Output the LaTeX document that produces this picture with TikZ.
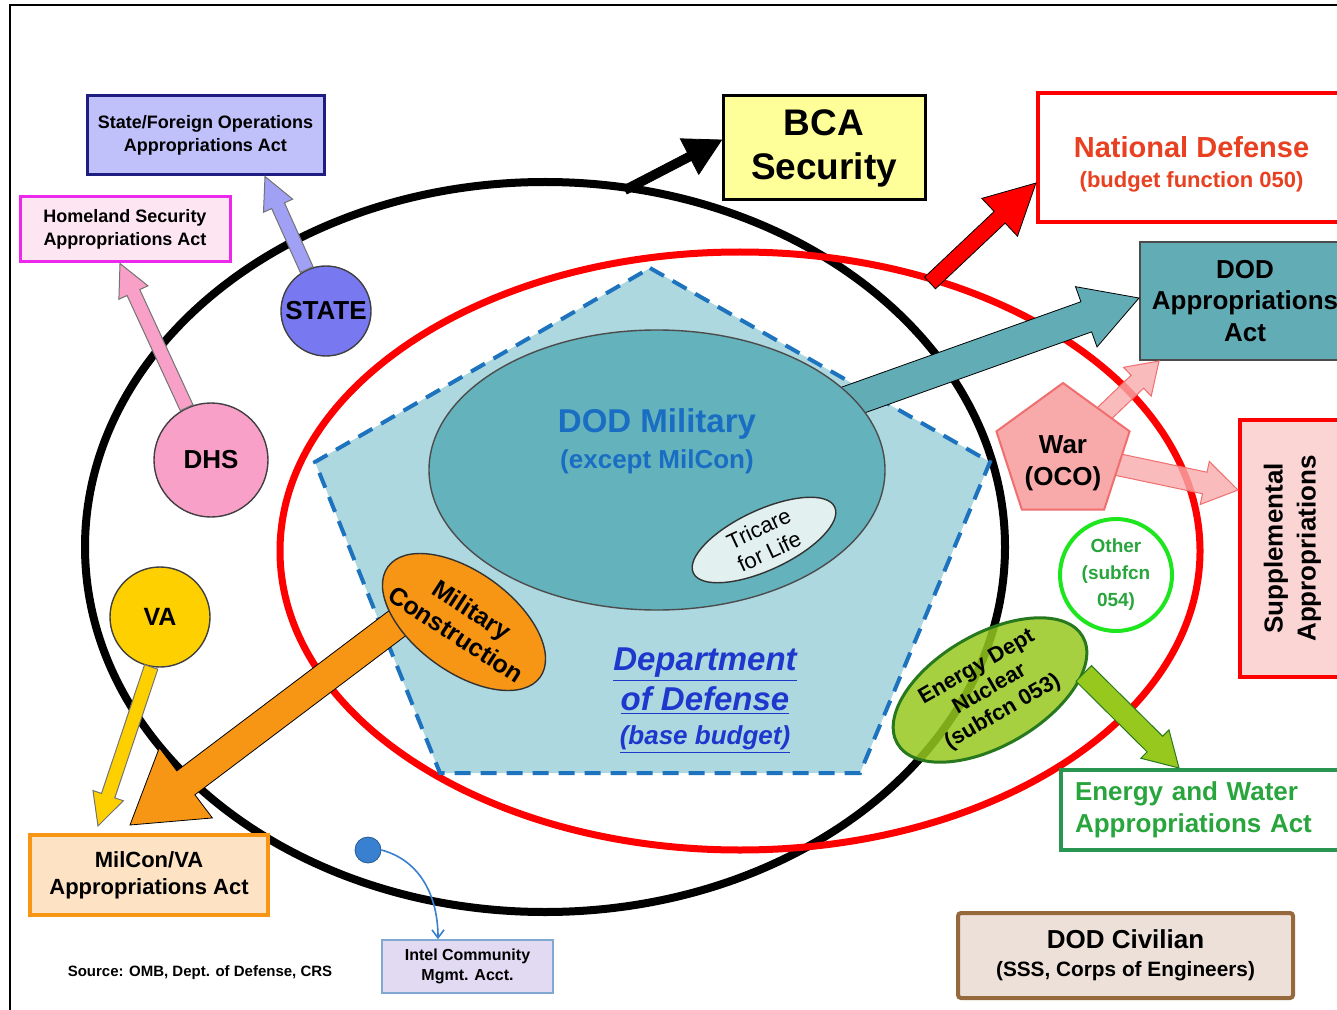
\documentclass[tikz,border=0pt]{standalone}
\usepackage{fontspec}
\setmainfont{Liberation Sans}
\usetikzlibrary{arrows.meta,shapes.geometric,positioning,calc}

\definecolor{pentfill}{RGB}{173,216,224}
\definecolor{pentline}{RGB}{30,115,190}
\definecolor{milfill}{RGB}{100,178,188}
\definecolor{tricfill}{RGB}{226,240,240}
\definecolor{dodblue}{RGB}{25,110,195}
\definecolor{deptblue}{RGB}{30,55,205}
\definecolor{mcorange}{RGB}{247,150,20}
\definecolor{mcbox}{RGB}{253,226,196}
\definecolor{vagold}{RGB}{255,208,0}
\definecolor{dhspink}{RGB}{248,160,200}
\definecolor{hspink}{RGB}{253,230,242}
\definecolor{hsline}{RGB}{235,40,235}
\definecolor{statepurple}{RGB}{120,120,240}
\definecolor{stateline}{RGB}{160,160,245}
\definecolor{sfbox}{RGB}{192,192,250}
\definecolor{sfline}{RGB}{30,30,130}
\definecolor{bcayellow}{RGB}{255,255,153}
\definecolor{ndred}{RGB}{232,64,32}
\definecolor{dodapp}{RGB}{98,172,182}
\definecolor{warpink}{RGB}{248,170,170}
\definecolor{warline}{RGB}{240,110,110}
\definecolor{supbox}{RGB}{251,212,212}
\definecolor{othgreen}{RGB}{30,230,30}
\definecolor{othtext}{RGB}{40,165,60}
\definecolor{nucgreen}{RGB}{150,200,30}
\definecolor{nucline}{RGB}{40,120,30}
\definecolor{ewgreen}{RGB}{40,150,80}
\definecolor{civbox}{RGB}{237,224,216}
\definecolor{civline}{RGB}{150,105,60}
\definecolor{intelbox}{RGB}{226,218,242}
\definecolor{intelline}{RGB}{128,168,208}
\definecolor{dotblue}{RGB}{58,128,208}

\newcommand{\setfs}[2]{\fontsize{#1}{#2}\selectfont}
% block arrow: style, from, to, half shaft, head length, half head
\newcommand{\blockarrow}[6]{%
  \coordinate (ba-s) at (#2);
  \coordinate (ba-e) at (#3);
  \coordinate (ba-h) at ($(ba-e)!#5!(ba-s)$);
  \draw[#1] ($(ba-s)!#4!90:(ba-e)$) -- ($(ba-h)!#4!90:(ba-e)$) -- ($(ba-h)!#6!90:(ba-e)$)
    -- (ba-e) -- ($(ba-h)!#6!-90:(ba-e)$) -- ($(ba-h)!#4!-90:(ba-e)$) -- ($(ba-s)!#4!-90:(ba-e)$) -- cycle;
}

\tikzset{
  actbox/.style={draw, line width=2pt, align=center, inner sep=0pt},
  agency/.style={circle, draw=black!75, line width=0.7pt, inner sep=0pt, font=\bfseries\setfs{13}{15}},
  oval/.style={ellipse, draw=black!80, line width=0.7pt, inner sep=0pt, align=center},
}

\begin{document}
\begin{tikzpicture}[x=0.5pt,y=-0.5pt]
\useasboundingbox (0,0) rectangle (1337,1010);
\draw[line width=1pt] (10,1010) -- (10,5) -- (1337,5);

% budget outlines
\draw[line width=4pt] (545,547) ellipse [x radius=460, y radius=365];
\draw[red, line width=3.5pt] (740,551) ellipse [x radius=460, y radius=299];
\draw[pentline, fill=pentfill, line width=2pt, dash pattern=on 8pt off 5pt] (650,268) -- (990,462) -- (860,773) -- (440,773) -- (315,462) -- cycle;

% appropriations acts
\node[actbox, draw=sfline, fill=sfbox, line width=1.5pt, minimum width=118.5pt, minimum height=39.5pt, font=\bfseries\setfs{9}{11.5}] (sfops) at (205.5,135.5) {State/Foreign Operations\\Appropriations Act};
\node[actbox, draw=hsline, fill=hspink, line width=1.5pt, minimum width=105pt, minimum height=32.5pt, font=\bfseries\setfs{9}{11.5}] (hsact) at (125,229.5) {Homeland Security\\Appropriations Act};
\node[actbox, draw=mcorange, fill=mcbox, minimum width=119pt, minimum height=40pt, font=\bfseries\setfs{11}{13.5}] (mcact) at (149,875) {MilCon/VA\\Appropriations Act};
\node[actbox, draw=black, fill=bcayellow, line width=1.5pt, minimum width=101pt, minimum height=52pt, font=\bfseries\setfs{18.5}{22}] (bca) at (824,148) {BCA\\Security};
\node[actbox, draw=red, fill=white, minimum width=153.5pt, minimum height=64.5pt, text=ndred, font=\bfseries\setfs{14.5}{15}] (natdef) at (1191.5,157.5) {\rule{0pt}{17pt}National Defense\\{\setfs{11}{15}(budget function 050)}};
\node[actbox, draw=black!70, fill=dodapp, line width=1pt, minimum width=105pt, minimum height=59pt, font=\bfseries\setfs{13}{15.75}] (dodapp) at (1245,301) {DOD\\Appropriations\\Act};
\node[actbox, draw=red, fill=supbox, minimum width=128.5pt, minimum height=52.5pt, rotate=90, font=\bfseries\setfs{13}{16.5}] (supp) at (1292.5,548.5) {Supplemental\\Appropriations};
\node[actbox, draw=ewgreen, fill=white, text=othtext, minimum height=40pt, text width=130pt, inner xsep=7pt, align=left, font=\bfseries\setfs{13}{16}] (ewact) at (1205,810) {Energy and Water\\Appropriations Act};
\node[actbox, draw=civline, fill=civbox, rounded corners=1.5pt, minimum width=167.5pt, minimum height=42.5pt, font=\bfseries\setfs{13}{14}] (civ) at (1125.5,955.5) {DOD Civilian\\{\setfs{10.4}{14}(SSS, Corps of Engineers)}};
\node[actbox, draw=intelline, fill=intelbox, line width=0.8pt, minimum width=85.5pt, minimum height=26.5pt, font=\bfseries\setfs{8}{10}] (intel) at (467.5,966.5) {Intel Community\\Mgmt. Acct.};
\node[font=\bfseries\setfs{7.5}{9}] (source) at (200,973) {Source: OMB, Dept. of Defense, CRS};

% agencies outside defense
\node[agency, fill=statepurple, minimum size=45pt] (state) at (326,311) {STATE};
\node[agency, fill=dhspink, minimum size=57pt] (dhs) at (211,460) {DHS};
\node[agency, fill=vagold, minimum size=50pt, font=\bfseries\setfs{12.5}{15}] (va) at (160,617) {VA};
\node[circle, fill=dotblue, draw=dotblue!70!black, minimum size=13pt, inner sep=0pt] (dot) at (368,850) {};

\blockarrow{fill=stateline, draw=black!55, line width=0.5pt}{state.115}{[xshift=29.75pt]sfops.south}{3.5pt}{16pt}{8pt}
\blockarrow{fill=dhspink, draw=black!55, line width=0.5pt}{dhs.115}{[xshift=-2.5pt]hsact.south}{3.5pt}{16pt}{8pt}
\blockarrow{fill=vagold, draw=black!55, line width=0.5pt}{va.-100}{[xshift=35pt,yshift=3.5pt]mcact.north west}{3.5pt}{16pt}{8pt}
\draw[dotblue, line width=0.8pt, -{Straight Barb[length=4pt,width=6pt]}] (dot.east) to[out=-15,in=90] ([xshift=-14.75pt]intel.north);

% defense
\coordinate (bcafoot) at (625,190);
\blockarrow{fill=black}{bcafoot}{[yshift=4pt]bca.west}{2.2pt}{18pt}{10pt}
\coordinate (ndfoot) at (930,283);
\blockarrow{fill=red}{ndfoot}{[yshift=-12.75pt]natdef.west}{4pt}{25pt}{13pt}

\coordinate (milc) at (657,470);
\blockarrow{fill=dodapp}{milc}{[yshift=1.5pt]dodapp.west}{8pt}{28pt}{16pt}
\node[oval, fill=milfill, draw=black!70, minimum width=228pt, minimum height=140pt] (dodmil) at (milc) {};
\node[align=center, text=dodblue, font=\bfseries\setfs{16.5}{18}] (dodmiltxt) at (657,441) {DOD Military\\{\setfs{13}{18}(except MilCon)}};
\node[oval, fill=tricfill, minimum width=78pt, minimum height=30pt, rotate=25, font=\setfs{11}{12.5}] (tricare) at (764,540) {Tricare\\for Life};

\coordinate (mcc) at (464,622);
\coordinate (mcfoot) at (440,591);
\blockarrow{fill=mcorange}{mcfoot}{[xshift=51pt,yshift=4pt]mcact.north west}{7.5pt}{35pt}{22pt}
\node[oval, fill=mcorange, minimum width=94pt, minimum height=50pt, rotate=-36] (milcon) at (mcc) {};
\node[rotate=-33, align=center, font=\bfseries\setfs{12.5}{14.5}] (milcontxt) at (mcc) {Military\\Construction};

\node[align=center, text=deptblue, font=\bfseries\itshape\setfs{16.5}{20}] (dept) at (705,701) {\underline{Department}\\\underline{of Defense}\\[-3pt]{\setfs{13}{18}\underline{(base budget)}}};

\coordinate (warc) at (1063,453);
\blockarrow{fill=warpink, draw=warline, line width=0.5pt, fill opacity=0.8}{warc}{[xshift=10pt]dodapp.south west}{4.5pt}{15pt}{10pt}
\blockarrow{fill=warpink, draw=warline, line width=0.5pt, fill opacity=0.8}{warc}{[yshift=29.25pt]supp.north}{5.5pt}{17pt}{11pt}
\node[regular polygon, regular polygon sides=5, minimum size=70pt, inner sep=0pt, fill=warpink, draw=warline, line width=1pt] (war) at (warc) {};
\node[align=center, font=\bfseries\setfs{13}{16}] (wartxt) at (1063,463) {War\\(OCO)};

\node[circle, draw=othgreen, line width=2pt, fill=white, minimum size=56pt, inner sep=0pt, align=center, text=othtext, font=\bfseries\setfs{9.5}{13.5}] (other) at (1116,575) {Other\\(subfcn\\054)};

\node[oval, fill=nucgreen, draw=nucline, line width=1.5pt, fill opacity=0.85, text opacity=1, minimum width=107pt, minimum height=56pt, rotate=30, font=\bfseries\setfs{11}{13}] (nuclear) at (990,690) {Energy Dept\\Nuclear\\(subfcn 053)};
\blockarrow{fill=nucgreen, draw=nucline, line width=0.5pt}{nuclear.-20}{[xshift=60pt]ewact.north west}{5.5pt}{17pt}{10pt}

\end{tikzpicture}
\end{document}
